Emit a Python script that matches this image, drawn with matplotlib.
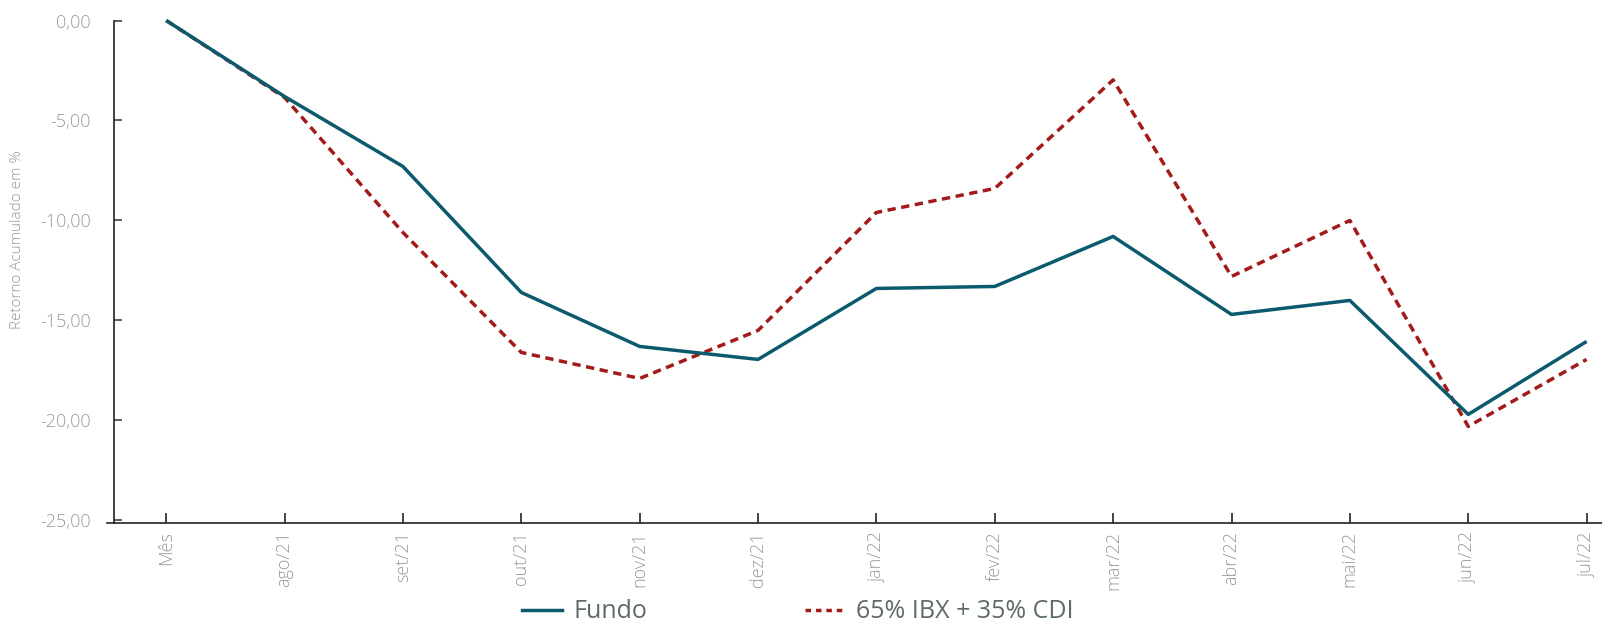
import matplotlib
matplotlib.use("Agg")
import matplotlib.pyplot as plt
from matplotlib.lines import Line2D

# dados
meses = ["Mês", "ago/21", "set/21", "out/21", "nov/21", "dez/21", "jan/22",
         "fev/22", "mar/22", "abr/22", "mai/22", "jun/22", "jul/22"]
fundo = [0.0, -3.8, -7.3, -13.6, -16.3, -16.95, -13.4, -13.3, -10.8, -14.7, -14.0, -19.7, -16.05]
benchmark = [0.0, -3.85, -10.6, -16.6, -17.9, -15.5, -9.6, -8.4, -2.97, -12.8, -10.0, -20.3, -16.95]
yticks = [0, -5, -10, -15, -20, -25]

cor_fundo = "#0b5a6e"
cor_bench = "#a31a1a"
cinza = "#9a9a9a"

plt.rcParams["font.family"] = ["Open Sans", "DejaVu Sans"]

fig = plt.figure(figsize=(16.02, 6.26), dpi=100)
W, H = 1602, 626
ax = fig.add_axes([107 / W, 1 - 523 / H, 1 - 107 / W, (523 - 20.5) / H])

x = list(range(len(meses)))
ax.plot(x, fundo, color=cor_fundo, lw=2.5, solid_capstyle="butt", zorder=3, clip_on=False)
ax.plot(x, benchmark, color=cor_bench, lw=2.5, dashes=(2.4, 1.6), zorder=2, clip_on=False)

ax.set_xlim(-0.5, 12.13)
ax.set_ylim(-25.13, 0)

for s in ["top", "right"]:
    ax.spines[s].set_visible(False)
ax.spines["left"].set_position(("data", -0.44))
ax.spines["left"].set_bounds(-25.13, 0)
for s in ["left", "bottom"]:
    ax.spines[s].set_color("#222222")
    ax.spines[s].set_linewidth(1.2)

ax.set_yticks(yticks)
ax.set_yticklabels([f"{v:.2f}".replace(".", ",") for v in yticks])
ax.set_xticks(x)
ax.set_xticklabels(meses, rotation=90, va="top", ha="center")

ax.tick_params(axis="y", direction="in", length=6, width=1.2, color="#444444",
               labelcolor=cinza, labelsize=13, pad=17)
ax.tick_params(axis="x", direction="in", length=7, width=1.2, color="#222222",
               labelcolor=cinza, labelsize=13, pad=6)
for lab in ax.get_yticklabels() + ax.get_xticklabels():
    lab.set_fontweight("light")

fig.text(18 / W, 1 - 240 / H, "Retorno Acumulado em %", rotation=90, color=cinza,
         fontsize=11, fontweight="light", ha="center", va="center")

handles = [Line2D([], [], color=cor_fundo, lw=2.5),
           Line2D([], [], color=cor_bench, lw=2.5, dashes=(1.6, 1.4))]
leg = fig.legend(handles, ["Fundo", "65% IBX + 35% CDI"], loc="center",
                 bbox_to_anchor=(798 / W, 1 - 612 / H), ncol=2, frameon=False,
                 fontsize=18, handlelength=1.6, handletextpad=0.45, columnspacing=6.3)
for t in leg.get_texts():
    t.set_color("#5f6b6b")

fig.savefig("out.png", dpi=100)
